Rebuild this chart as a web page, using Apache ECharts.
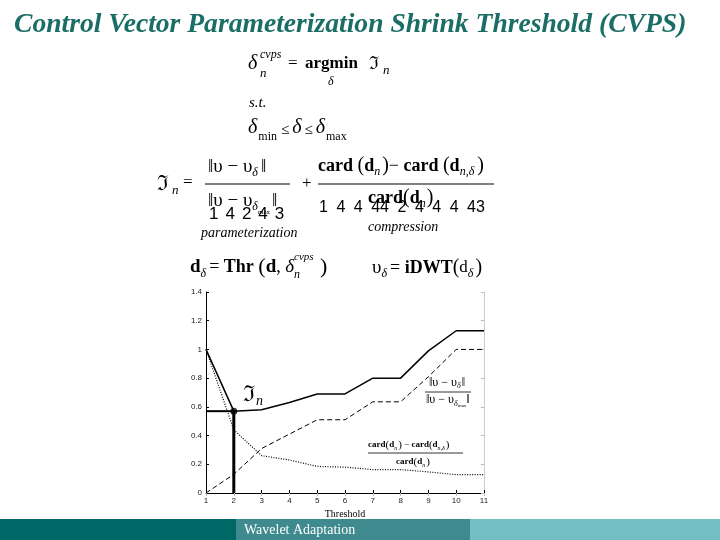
<!DOCTYPE html>
<html><head><meta charset="utf-8">
<script src="https://cdn.jsdelivr.net/npm/echarts@6/dist/echarts.min.js"></script>
<style>html,body{margin:0;padding:0;background:#fff}#c{width:720px;height:540px}</style>
</head><body><div id="c"></div>
<script>
// ---- data ----
const thresholds = [1, 2, 3, 4, 5, 6, 7, 8, 9, 10, 11];
const costJ      = [1.0, 0.57, 0.58, 0.63, 0.69, 0.69, 0.80, 0.80, 0.99, 1.13, 1.13];
const paramErr   = [0.0, 0.13, 0.31, 0.41, 0.51, 0.51, 0.635, 0.635, 0.81, 1.0, 1.0];
const compress   = [1.0, 0.44, 0.26, 0.23, 0.185, 0.18, 0.163, 0.163, 0.147, 0.128, 0.128];
const optThreshold = 2;
const optCost = 0.57;
const yTicks = [0, 0.2, 0.4, 0.6, 0.8, 1, 1.2, 1.4];
const titleText = 'Control Vector Parameterization Shrink Threshold (CVPS)';
const footerText = 'Wavelet Adaptation';
const xName = 'Threshold';

const pairs = a => thresholds.map((x, i) => [x, a[i]]);

// ---- text layout helper ----
const mctx = document.createElement('canvas').getContext('2d');
const SERIF = '"Liberation Serif","DejaVu Serif",serif';
function fontOf(size, o) {
  return (o.italic ? 'italic ' : '') + (o.bold ? 'bold ' : '') + size + 'px ' + (o.family || SERIF);
}
const els = [];
function seq(x, y, parts) {
  let cx = x;
  for (const p of parts) {
    const txt = p[0], size = p[1], o = p[2] || {};
    const font = fontOf(size, o);
    mctx.font = font;
    const w = mctx.measureText(txt).width;
    els.push({type: 'text', x: cx + (o.dx || 0), y: y + (o.dy || 0), silent: true, z: 100,
      style: {text: txt, font: font, fill: o.color || '#000', verticalAlign: 'middle', align: 'left'}});
    cx += w + (o.dx || 0) + (o.gap || 0);
  }
  return cx;
}
function hline(x1, x2, y, w) {
  els.push({type: 'line', silent: true, z: 100, shape: {x1: x1, y1: y, x2: x2, y2: y},
    style: {stroke: '#000', lineWidth: w || 1}});
}
const I = {italic: true};
const B = {bold: true};
const SANS = {family: '"Liberation Sans",Arial,sans-serif'};

// line 1: delta_n^cvps = argmin_delta J_n
seq(248, 64, [['δ', 20, I]]);
seq(260, 55, [['cvps', 12, I]]);
seq(260, 74, [['n', 13, I]]);
seq(288, 64, [['=', 17]]);
seq(305, 64, [['argmin', 17, B]]);
seq(328, 82, [['δ', 12, I]]);
seq(369, 64, [['ℑ', 18]]);
seq(383, 71, [['n', 13, I]]);
// s.t.
seq(249, 103, [['s.t.', 15, I]]);
// delta_min <= delta <= delta_max
let cx = seq(248, 128, [['δ', 20, I]]);
cx = seq(cx + 1, 137, [['min', 12]]);
cx = seq(cx + 4, 130, [['≤', 15]]);
cx = seq(cx + 3, 128, [['δ', 20, I]]);
cx = seq(cx + 3, 130, [['≤', 15]]);
cx = seq(cx + 3, 128, [['δ', 20, I]]);
seq(cx + 1, 137, [['max', 12]]);

// J_n = fraction + fraction
seq(157, 184, [['ℑ', 21]]);
seq(172, 191, [['n', 13, I]]);
seq(183, 183, [['=', 17]]);
cx = seq(208, 167, [['‖υ − υ', 19]]);
cx = seq(cx, 173, [['δ', 12, I]]);
seq(cx + 3, 167, [['‖', 19]]);
hline(205, 290, 184, 1);
cx = seq(208, 201, [['‖υ − υ', 19]]);
cx = seq(cx, 207, [['δ', 12, I]]);
cx = seq(cx, 212, [['max', 7]]);
seq(cx + 2, 201, [['‖', 19]]);
const g1 = ['1', '4', '2', '4', '3'];
seq(209, 214, g1.map(s => [s, 17, Object.assign({gap: 7}, SANS)]));
seq(201, 233, [['parameterization', 14, I]]);
seq(302, 184, [['+', 17]]);
cx = seq(318, 166, [['card ', 18, B], ['(', 20], ['d', 18, B]]);
cx = seq(cx, 172, [['n', 12, I]]);
cx = seq(cx + 2, 166, [[')', 20], ['− ', 18], ['card ', 18, B], ['(', 20], ['d', 18, B]]);
cx = seq(cx, 172, [['n,δ', 12, I]]);
seq(cx + 3, 166, [[')', 20]]);
hline(318, 494, 184, 1);
cx = seq(368, 198, [['card', 18, B], ['(', 20], ['d', 18, B]]);
cx = seq(cx, 204, [['n', 12, I]]);
seq(cx + 1, 198, [[')', 20]]);
const g2 = ['1', '4', '4', '44', '2', '4', '4', '4', '43'];
seq(319, 208, g2.map(s => [s, 16, Object.assign({gap: 8.5}, SANS)]));
seq(368, 227, [['compression', 14, I]]);

// d_delta = Thr(d, delta_n^cvps)     u_delta = iDWT(d_delta)
cx = seq(190, 267, [['d', 19, B]]);
cx = seq(cx, 274, [['δ', 12, I]]);
cx = seq(cx + 3, 267, [['= ', 18], ['Thr ', 18, B], ['(', 22], ['d', 19, B], [', ', 18], ['δ', 19, I]]);
seq(cx, 257, [['cvps', 11, I]]);
seq(cx, 275, [['n', 12, I]]);
seq(cx + 26, 267, [[')', 22]]);
cx = seq(372, 268, [['υ', 19]]);
cx = seq(cx, 274, [['δ', 12, I]]);
cx = seq(cx + 3, 268, [['= ', 18], ['iDWT', 18, B], ['(', 20], ['d', 17]]);
cx = seq(cx, 274, [['δ', 12, I]]);
seq(cx + 2, 268, [[')', 20]]);

// in-plot annotations
seq(243, 395, [['ℑ', 22]]);
seq(256, 401, [['n', 14, I]]);
cx = seq(429, 383, [['‖υ − υ', 12]]);
cx = seq(cx, 386, [['δ', 8, I]]);
seq(cx + 1, 383, [['‖', 12]]);
hline(425, 471, 392, 0.8);
cx = seq(426, 400, [['‖υ − υ', 12]]);
cx = seq(cx, 404, [['δ', 8, I]]);
cx = seq(cx, 406, [['max', 5]]);
seq(cx, 400, [['‖', 12]]);
cx = seq(368, 445, [['card', 9, B], ['(', 11], ['d', 9, B]]);
cx = seq(cx, 448, [['n', 6, I]]);
cx = seq(cx + 1, 445, [[')', 11], [' − ', 9], ['card', 9, B], ['(', 11], ['d', 9, B]]);
cx = seq(cx, 448, [['n,δ', 6, I]]);
seq(cx + 1, 445, [[')', 11]]);
hline(368, 463, 453, 0.8);
cx = seq(396, 462, [['card', 9, B], ['(', 11], ['d', 9, B]]);
cx = seq(cx, 465, [['n', 6, I]]);
seq(cx + 1, 462, [[')', 11]]);

// footer
els.push({type: 'rect', shape: {x: 0, y: 519, width: 236, height: 21}, style: {fill: '#006767'}, silent: true});
els.push({type: 'rect', shape: {x: 236, y: 519, width: 234, height: 21}, style: {fill: '#3f8a8f'}, silent: true});
els.push({type: 'rect', shape: {x: 470, y: 519, width: 250, height: 21}, style: {fill: '#74bfc4'}, silent: true});
els.push({type: 'text', x: 244, y: 530, silent: true, z: 100,
  style: {text: footerText, font: '14px ' + SERIF, fill: '#fff', verticalAlign: 'middle'}});

const lbl = {fontFamily: '"Liberation Sans",Arial,sans-serif', fontSize: 8, color: '#222'};
const chart = echarts.init(document.getElementById('c'), null, {renderer: 'canvas'});
chart.setOption({
  animation: false,
  backgroundColor: '#fff',
  title: {
    text: titleText, left: 9, top: 6,
    textStyle: {fontFamily: SERIF, fontStyle: 'italic', fontWeight: 'bold', fontSize: 27.6, color: '#1a6e66'}
  },
  grid: {left: 206, right: 236, top: 292, bottom: 47},
  xAxis: [{
    type: 'value', min: 1, max: 11, interval: 1,
    name: xName, nameLocation: 'middle', nameGap: 16,
    nameTextStyle: {fontFamily: SERIF, fontSize: 10, color: '#000'},
    axisLine: {lineStyle: {color: '#000', width: 1}},
    axisTick: {inside: true, length: 3, lineStyle: {color: '#000'}},
    axisLabel: Object.assign({margin: 4}, lbl),
    splitLine: {show: false}
  }, {
    type: 'value', min: 1, max: 11, interval: 1, position: 'top',
    axisLine: {show: false},
    axisTick: {inside: true, length: 3, lineStyle: {color: '#bbb'}},
    axisLabel: {show: false}, splitLine: {show: false}
  }],
  yAxis: [{
    type: 'value', min: 0, max: 1.4, interval: 0.2,
    axisLine: {show: true, lineStyle: {color: '#000', width: 1}},
    axisTick: {show: true, inside: true, length: 3, lineStyle: {color: '#000'}},
    axisLabel: Object.assign({margin: 4, formatter: v => String(+v.toFixed(1))}, lbl),
    splitLine: {show: false}
  }, {
    type: 'value', min: 0, max: 1.4, interval: 0.2, position: 'right',
    axisLine: {show: true, lineStyle: {color: '#ccc', width: 1}},
    axisTick: {show: true, inside: true, length: 3, lineStyle: {color: '#bbb'}},
    axisLabel: {show: false}, splitLine: {show: false}
  }],
  series: [
    {type: 'line', data: pairs(costJ), symbol: 'none', lineStyle: {color: '#000', width: 1.5}, z: 5},
    {type: 'line', data: pairs(paramErr), symbol: 'none', lineStyle: {color: '#000', width: 1, type: [5, 3]}, z: 4},
    {type: 'line', data: pairs(compress), symbol: 'none', lineStyle: {color: '#000', width: 1.2, type: [1, 1.5]}, z: 4},
    {type: 'line', data: [[thresholds[0], optCost], [optThreshold, optCost]], symbol: 'none',
      lineStyle: {color: '#000', width: 2}, z: 6},
    {type: 'line', data: [[optThreshold, 0], [optThreshold, optCost]], symbol: 'none',
      lineStyle: {color: '#000', width: 3}, z: 6},
    {type: 'scatter', data: [[optThreshold, optCost]], symbol: 'circle', symbolSize: 7,
      itemStyle: {color: '#000'}, z: 7}
  ],
  graphic: els
});
</script></body></html>
